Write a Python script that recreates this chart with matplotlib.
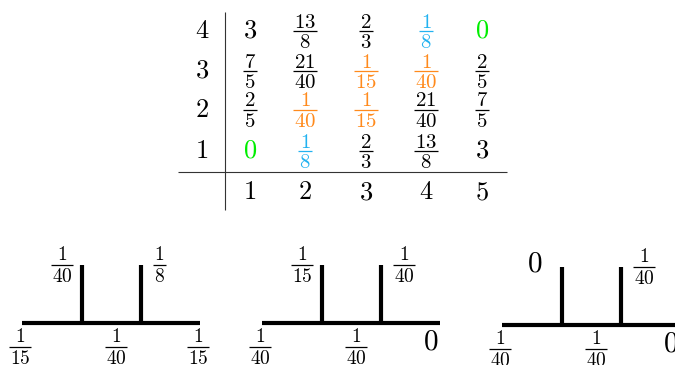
import matplotlib
matplotlib.use("Agg")
import matplotlib.pyplot as plt

plt.rcParams['mathtext.fontset'] = 'cm'

# ---- data ----
row_labels = [1, 2, 3, 4]
col_labels = [1, 2, 3, 4, 5]
row1 = ['0', '1/8', '2/3', '13/8', '3']
row2 = ['2/5', '1/40', '1/15', '21/40', '7/5']
row3 = ['7/5', '21/40', '1/15', '1/40', '2/5']
row4 = ['3', '13/8', '2/3', '1/8', '0']
table_rows = [row1, row2, row3, row4]

highlight = {'0': '#00ee00', '1/8': '#22b2f0', '1/15': '#ff8a1c', '1/40': '#ff8a1c'}

diag_top = [['1/40', '1/8'], ['1/15', '1/40'], ['0', '1/40']]
diag_bottom = [['1/15', '1/40', '1/15'], ['1/40', '1/40', '0'], ['1/40', '1/40', '0']]

# ---- layout ----
W, H = 675, 365
fig = plt.figure(figsize=(W / 100, H / 100), dpi=100)
ax = fig.add_axes([0, 0, 1, 1])
ax.set_xlim(0, W)
ax.set_ylim(H, 0)
ax.axis('off')

col_x = [250, 305, 366, 426, 482]
row_y = [151, 110, 71, 31]
lab_x = 202
lab_y = 192

PX = 100 / 72.0  # pixels per point


def em(fs):
    return fs * PX


def frac(x, ybar, num, den, fs, color='black', gap=3.5, pad=1.5, ha='center'):
    dw = 0.5 * em(fs)
    dh = 0.644 * em(fs)
    bw = max(len(num), len(den)) * dw + 2 * pad
    cx = x + bw / 2 if ha == 'left' else x
    ax.text(cx, ybar - gap, r'$%s$' % num, fontsize=fs, color=color,
            ha='center', va='baseline')
    ax.text(cx, ybar + gap + dh, r'$%s$' % den, fontsize=fs, color=color,
            ha='center', va='baseline')
    ax.plot([cx - bw / 2, cx + bw / 2], [ybar, ybar], color=color, lw=0.9,
            solid_capstyle='butt')


def put(x, y, s, fs_int, fs_frac, color='black', gap=3.5, ha='center'):
    if '/' in s:
        n, d = s.split('/')
        frac(x, y, n, d, fs_frac, color=color, gap=gap, ha=ha)
    else:
        ax.text(x, y, r'$%s$' % s, fontsize=fs_int, color=color, ha=ha,
                va='center')


INT_FS = 19
FRAC_FS = 15

# table lines
ax.plot([225, 225], [12, 210], color='#333333', lw=0.8, solid_capstyle='butt')
ax.plot([178, 507], [172, 172], color='#333333', lw=0.8, solid_capstyle='butt')

for r, y in zip(row_labels, row_y):
    put(lab_x, y, str(r), INT_FS, FRAC_FS)
for c, x in zip(col_labels, col_x):
    put(x, lab_y, str(c), INT_FS, FRAC_FS)

for vals, y in zip(table_rows, row_y):
    for v, x in zip(vals, col_x):
        put(x, y, v, INT_FS, FRAC_FS, color=highlight.get(v, 'black'))

# diagrams
origins = [(22, 323), (262, 323), (502, 325)]
D_INT = 21
D_FRAC = 14
for (x0, y0), tops, bots in zip(origins, diag_top, diag_bottom):
    ax.plot([x0, x0 + 178], [y0, y0], color='black', lw=3, solid_capstyle='butt')
    for dx in (60, 119):
        ax.plot([x0 + dx, x0 + dx], [y0, y0 - 58], color='black', lw=3,
                solid_capstyle='butt')
    t0, t1 = tops
    if '/' in t0:
        put(x0 + 40, y0 - 58.5, t0, D_INT, D_FRAC, gap=4.5)
    else:
        put(x0 + 33, y0 - 62, t0, D_INT, D_FRAC)
    put(x0 + 131, y0 - 58.5, t1, D_INT, D_FRAC, gap=4.5, ha='left')
    for v, dx in zip(bots, (-2, 94, 176)):
        if '/' in v:
            put(x0 + dx, y0 + 24, v, D_INT, D_FRAC, gap=4.5)
        else:
            put(x0 + dx - 7, y0 + 19, v, D_INT, D_FRAC)

fig.savefig('out.png', dpi=100)
